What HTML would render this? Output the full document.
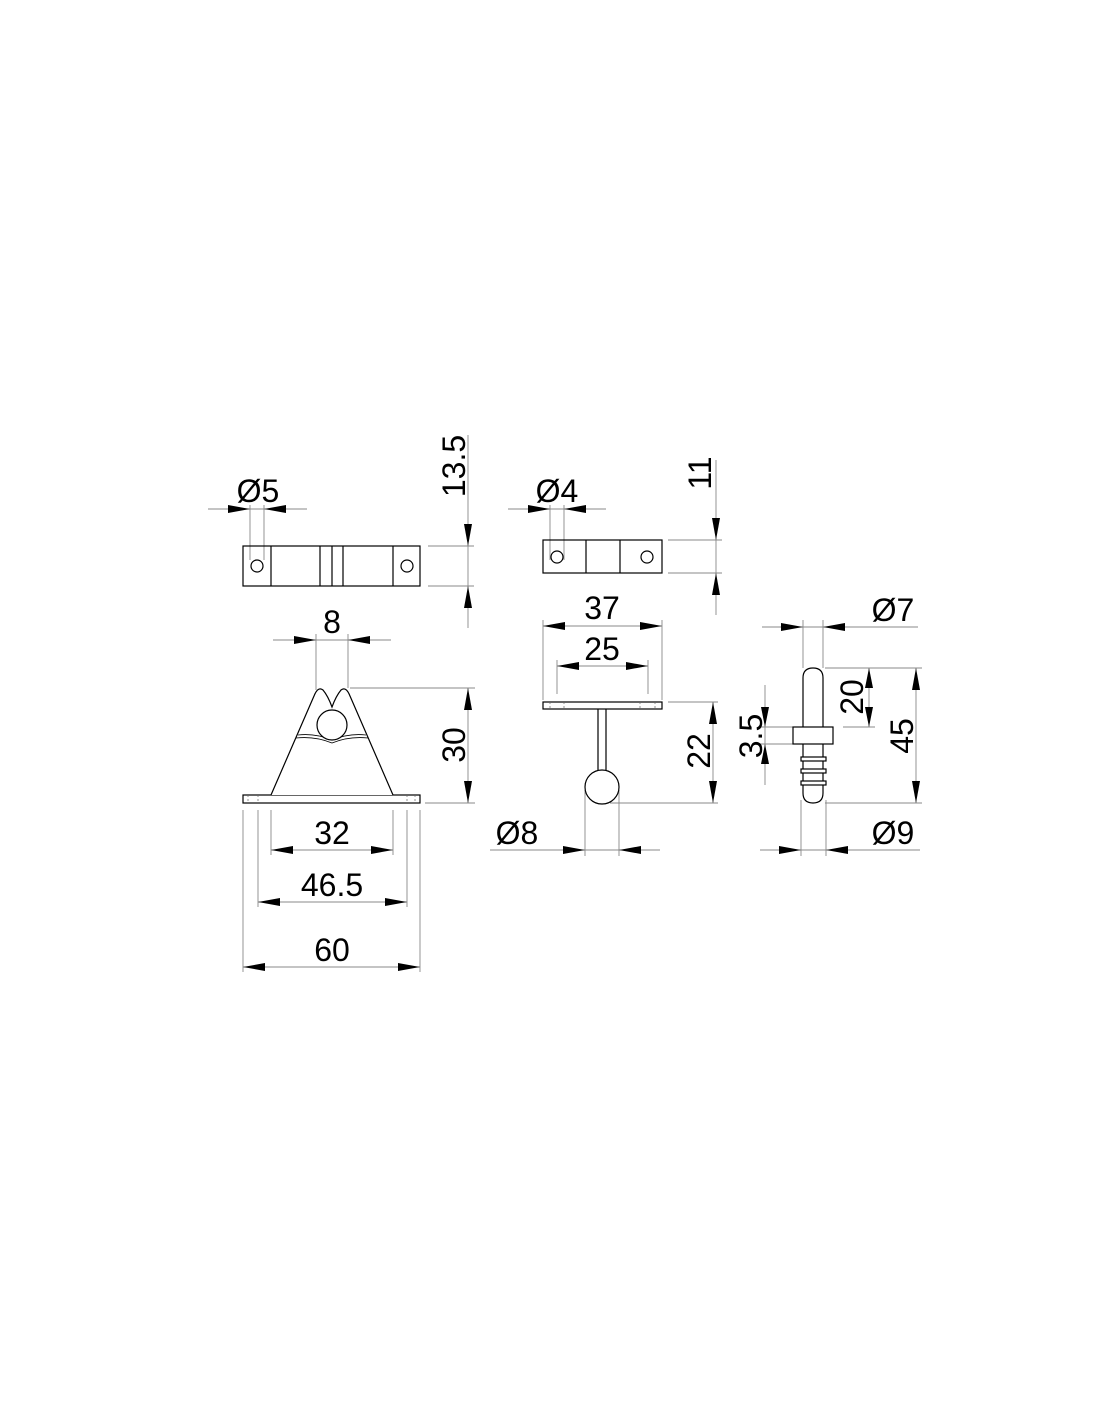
<!DOCTYPE html>
<html><head><meta charset="utf-8"><style>
html,body{margin:0;padding:0;background:#fff}
svg{display:block}
text{font-family:"Liberation Sans",sans-serif;font-size:32px;fill:#000}
</style></head><body>
<svg width="1100" height="1422" viewBox="0 0 1100 1422" xmlns="http://www.w3.org/2000/svg">
<g stroke="#888" stroke-width="0.9" fill="none">
<line x1="250" y1="505" x2="250" y2="560"/><line x1="264" y1="505" x2="264" y2="560"/>
<line x1="208" y1="509" x2="307" y2="509"/>
<line x1="428" y1="546" x2="474" y2="546"/><line x1="428" y1="586" x2="474" y2="586"/>
<line x1="468" y1="435" x2="468" y2="628"/>
<line x1="316" y1="634" x2="316" y2="690"/><line x1="348" y1="634" x2="348" y2="688"/>
<line x1="273" y1="640" x2="391" y2="640"/>
<line x1="350" y1="688" x2="475" y2="688"/><line x1="425" y1="803" x2="475" y2="803"/>
<line x1="468" y1="688" x2="468" y2="803"/>
<line x1="243" y1="810" x2="243" y2="972"/><line x1="258" y1="810" x2="258" y2="907"/>
<line x1="271" y1="810" x2="271" y2="855"/><line x1="393" y1="810" x2="393" y2="855"/>
<line x1="407" y1="810" x2="407" y2="907"/><line x1="420" y1="810" x2="420" y2="972"/>
<line x1="271" y1="850" x2="393" y2="850"/><line x1="258" y1="902" x2="407" y2="902"/><line x1="243" y1="967" x2="420" y2="967"/>
<line x1="550" y1="505" x2="550" y2="560"/><line x1="564" y1="505" x2="564" y2="560"/>
<line x1="508" y1="509" x2="606" y2="509"/>
<line x1="668" y1="540" x2="722" y2="540"/><line x1="668" y1="573" x2="722" y2="573"/>
<line x1="716" y1="460" x2="716" y2="615"/>
<line x1="543" y1="620" x2="543" y2="700"/><line x1="662" y1="620" x2="662" y2="700"/>
<line x1="543" y1="626" x2="662" y2="626"/>
<line x1="557" y1="660" x2="557" y2="694"/><line x1="648" y1="660" x2="648" y2="694"/>
<line x1="557" y1="666" x2="648" y2="666"/>
<line x1="668" y1="702" x2="718" y2="702"/><line x1="610" y1="803" x2="718" y2="803"/>
<line x1="713" y1="702" x2="713" y2="803"/>
<line x1="585" y1="790" x2="585" y2="856"/><line x1="619" y1="790" x2="619" y2="856"/>
<line x1="490" y1="850" x2="660" y2="850"/>
<line x1="803" y1="620" x2="803" y2="668"/><line x1="823" y1="620" x2="823" y2="668"/>
<line x1="762" y1="627" x2="918" y2="627"/>
<line x1="825" y1="668" x2="922" y2="668"/><line x1="843" y1="727" x2="875" y2="727"/>
<line x1="869" y1="668" x2="869" y2="727"/>
<line x1="916" y1="668" x2="916" y2="803"/><line x1="825" y1="803" x2="922" y2="803"/>
<line x1="765" y1="685" x2="765" y2="785"/>
<line x1="760" y1="727" x2="800" y2="727"/><line x1="760" y1="744" x2="800" y2="744"/>
<line x1="801" y1="800" x2="801" y2="856"/><line x1="826" y1="800" x2="826" y2="856"/>
<line x1="760" y1="850" x2="920" y2="850"/>
</g>
<g stroke="none" fill="#000">
<path d="M228,505L250,509L228,513Z"/><path d="M286,505L264,509L286,513Z"/>
<path d="M464,524L468,546L472,524Z"/><path d="M464,608L468,586L472,608Z"/>
<path d="M294,636L316,640L294,644Z"/><path d="M370,636L348,640L370,644Z"/>
<path d="M464,710L468,688L472,710Z"/><path d="M464,781L468,803L472,781Z"/>
<path d="M293,846L271,850L293,854Z"/><path d="M371,846L393,850L371,854Z"/>
<path d="M280,898L258,902L280,906Z"/><path d="M385,898L407,902L385,906Z"/>
<path d="M265,963L243,967L265,971Z"/><path d="M398,963L420,967L398,971Z"/>
<path d="M528,505L550,509L528,513Z"/><path d="M586,505L564,509L586,513Z"/>
<path d="M712,518L716,540L720,518Z"/><path d="M712,595L716,573L720,595Z"/>
<path d="M565,622L543,626L565,630Z"/><path d="M640,622L662,626L640,630Z"/>
<path d="M579,662L557,666L579,670Z"/><path d="M626,662L648,666L626,670Z"/>
<path d="M709,724L713,702L717,724Z"/><path d="M709,781L713,803L717,781Z"/>
<path d="M563,846L585,850L563,854Z"/><path d="M641,846L619,850L641,854Z"/>
<path d="M781,623L803,627L781,631Z"/><path d="M845,623L823,627L845,631Z"/>
<path d="M865,688L869,668L873,688Z"/><path d="M865,707L869,727L873,707Z"/>
<path d="M912,690L916,668L920,690Z"/><path d="M912,781L916,803L920,781Z"/>
<path d="M761,707L765,727L769,707Z"/><path d="M761,764L765,744L769,764Z"/>
<path d="M779,846L801,850L779,854Z"/><path d="M848,846L826,850L848,854Z"/>
</g>
<g stroke="#000" stroke-width="1.2" fill="none">
<rect x="243" y="546" width="177" height="40"/>
<line x1="271" y1="546" x2="271" y2="586"/><line x1="320" y1="546" x2="320" y2="586"/>
<line x1="332" y1="546" x2="332" y2="586"/><line x1="343" y1="546" x2="343" y2="586"/>
<line x1="393" y1="546" x2="393" y2="586"/>
<circle cx="257" cy="566" r="6"/><circle cx="407" cy="566" r="6"/>
<rect x="243" y="795" width="177" height="8"/>
<path d="M271,795L314,696Q318,686 323,690Q328,696 332,707Q336,696 341,690Q346,686 350,696L393,795" fill="#fff"/>
<path d="M298,735Q315,733 332,740Q349,733 366,735" stroke-width="0.8"/>
<path d="M296,738Q315,736 332,743Q349,736 368,738" stroke-width="0.8"/>
<circle cx="332" cy="725" r="15" fill="#fff"/>
<rect x="543" y="540" width="119" height="33"/>
<line x1="586" y1="540" x2="586" y2="573"/><line x1="620" y1="540" x2="620" y2="573"/>
<circle cx="557" cy="557" r="6"/><circle cx="647" cy="557" r="6"/>
<rect x="543" y="702" width="119" height="7"/>
<path d="M598,709L598,772M606,709L606,772"/>
<circle cx="602" cy="787" r="17" fill="#fff"/>
<path d="M803,727L803,678Q803,668 813,668Q823,668 823,678L823,727"/>
<path d="M803,744L803,793Q803,803 813,803Q823,803 823,793L823,744" fill="#fff"/>
<rect x="793" y="727" width="40" height="17" fill="#fff"/>
<rect x="801" y="757" width="25" height="4" fill="#fff"/>
<rect x="801" y="769" width="25" height="4" fill="#fff"/>
<rect x="801" y="781" width="25" height="4" fill="#fff"/>
</g>
<g stroke="#666" stroke-width="0.7">
<line x1="248" y1="795" x2="248" y2="803" stroke-dasharray="2,2"/><line x1="258" y1="795" x2="258" y2="803" stroke-dasharray="2,2"/>
<line x1="407" y1="795" x2="407" y2="803" stroke-dasharray="2,2"/><line x1="415" y1="795" x2="415" y2="803" stroke-dasharray="2,2"/>
<line x1="550" y1="702" x2="550" y2="709" stroke-dasharray="2,2"/><line x1="564" y1="702" x2="564" y2="709" stroke-dasharray="2,2"/>
<line x1="640" y1="702" x2="640" y2="709" stroke-dasharray="2,2"/><line x1="655" y1="702" x2="655" y2="709" stroke-dasharray="2,2"/>
</g>
<text x="258" y="502" text-anchor="middle">Ø5</text>
<text x="557" y="502" text-anchor="middle">Ø4</text>
<text x="332" y="633" text-anchor="middle">8</text>
<text x="332" y="844" text-anchor="middle">32</text>
<text x="332" y="896" text-anchor="middle">46.5</text>
<text x="332" y="961" text-anchor="middle">60</text>
<text x="602" y="619" text-anchor="middle">37</text>
<text x="602" y="660" text-anchor="middle">25</text>
<text x="517" y="844" text-anchor="middle">Ø8</text>
<text x="893" y="621" text-anchor="middle">Ø7</text>
<text x="893" y="844" text-anchor="middle">Ø9</text>
<text transform="translate(465,466) rotate(-90)" text-anchor="middle">13.5</text>
<text transform="translate(465,745) rotate(-90)" text-anchor="middle">30</text>
<text transform="translate(711,473) rotate(-90)" text-anchor="middle">11</text>
<text transform="translate(710,751) rotate(-90)" text-anchor="middle">22</text>
<text transform="translate(863,697) rotate(-90)" text-anchor="middle">20</text>
<text transform="translate(913,736) rotate(-90)" text-anchor="middle">45</text>
<text transform="translate(762,736) rotate(-90)" text-anchor="middle">3.5</text>
</svg>
</body></html>
